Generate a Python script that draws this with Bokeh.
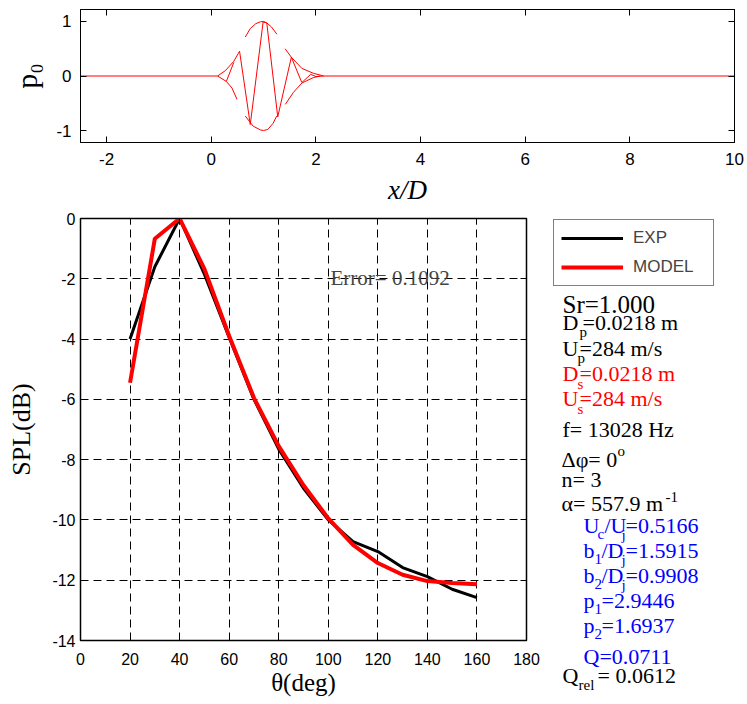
from bokeh.plotting import figure
from bokeh.models import (Label, Legend, LegendItem, LinearAxis, FixedTicker, Range1d,
                          CustomJSTickFormatter)
from bokeh.layouts import column, row
from bokeh.embed import file_html
from bokeh.resources import INLINE

# ---------------- data: top panel (wave packet p0 vs x/D) ----------------
zero_x = [[-2.5, 0.12], [2.15, 10.0]]
zero_y = [[0.0, 0.0], [0.0, 0.0]]
main_x = [0.12, 0.27, 0.43, 0.54, 0.745, 0.99, 1.06, 1.27, 1.53, 1.73, 1.90, 2.00, 2.15]
main_y = [0.0, 0.10, 0.27, 0.455, -0.89, 0.99, 0.975, -0.75, 0.345, -0.12, 0.03, -0.01, 0.0]
inner_left_x = [0.12, 0.287, 0.43]
inner_left_y = [0.0, -0.10, 0.25]
lower_left_x = [0.287, 0.395, 0.49]
lower_left_y = [-0.10, -0.22, -0.425]
top_arc_x = [0.65, 0.745, 0.85, 0.94, 1.0, 1.06, 1.15, 1.255]
top_arc_y = [0.715, 0.87, 0.96, 0.995, 1.0, 0.975, 0.90, 0.765]
bot_arc_x = [0.65, 0.80, 0.94, 1.0, 1.08, 1.18, 1.25]
bot_arc_y = [-0.735, -0.92, -0.99, -1.0, -0.98, -0.87, -0.735]
upper_right_x = [1.41, 1.53, 1.73, 1.95, 2.15]
upper_right_y = [0.50, 0.345, 0.14, 0.05, 0.0]
lower_right_x = [1.415, 1.57, 1.73, 1.95, 2.08]
lower_right_y = [-0.52, -0.30, -0.13, -0.03, 0.0]
top_xticks = [-2, 0, 2, 4, 6, 8, 10]
top_yticks = [-1, 0, 1]

# ---------------- data: bottom panel (SPL directivity) ----------------
theta = [20, 30, 40, 50, 60, 70, 80, 90, 100, 110, 120, 130, 140, 150, 160]
spl_exp = [-4.0, -1.6, 0.0, -1.85, -3.95, -6.0, -7.65, -8.95, -10.0, -10.72, -11.05, -11.58, -11.88, -12.3, -12.58]
spl_model = [-5.45, -0.67, 0.0, -1.67, -3.9, -5.95, -7.55, -8.85, -9.95, -10.83, -11.43, -11.82, -12.03, -12.09, -12.13]
bot_xticks = [0, 20, 40, 60, 80, 100, 120, 140, 160, 180]
bot_yticks = [-14, -12, -10, -8, -6, -4, -2, 0]

SERIF = "Liberation Serif"
SANS = "Liberation Sans"
BLUE = "#0000ff"
RED = "#ff0000"

# ---------------- top figure (page 0..747 x 0..208) ----------------
top = figure(frame_width=654, frame_height=133, output_backend="svg", toolbar_location=None,
             x_range=Range1d(-2.5, 10.0), y_range=Range1d(-1.22, 1.22),
             min_border_left=80, min_border_right=13, min_border_top=9, min_border_bottom=66)
segs_x = zero_x + [main_x, inner_left_x, lower_left_x, top_arc_x, bot_arc_x, upper_right_x, lower_right_x]
segs_y = zero_y + [main_y, inner_left_y, lower_left_y, top_arc_y, bot_arc_y, upper_right_y, lower_right_y]
top.multi_line(xs=segs_x, ys=segs_y, line_color=RED, line_width=1)

# ---------------- bottom figure (frame 80..526 x 218..640) ----------------
BX0, BX1, BY0, BY1 = 0, 180, -14, 0
bot = figure(frame_width=446, frame_height=422, output_backend="svg", toolbar_location=None,
             x_range=Range1d(BX0, BX1), y_range=Range1d(BY0, BY1),
             min_border_left=80, min_border_right=16, min_border_top=10, min_border_bottom=62)
r_exp = bot.line(theta, spl_exp, line_color="black", line_width=3)
r_mod = bot.line(theta, spl_model, line_color=RED, line_width=4)

def bx(px):  # page x -> bottom data x
    return BX0 + (px - 80) / 446 * (BX1 - BX0)

def by(py):  # page y -> bottom data y
    return BY1 - (py - 218) / 422 * (BY1 - BY0)

# ---------------- styling ----------------
blank = CustomJSTickFormatter(code="return ''")

def style(fig, xt, yt, tick_font, xstand, ystand, outline_w):
    fig.xaxis.ticker = FixedTicker(ticks=xt)
    fig.yaxis.ticker = FixedTicker(ticks=yt)
    fig.xaxis.major_label_overrides = {t: str(t) for t in xt}
    fig.yaxis.major_label_overrides = {t: str(t) for t in yt}
    fig.add_layout(LinearAxis(ticker=FixedTicker(ticks=xt), formatter=blank,
                              major_label_standoff=0), "above")
    fig.add_layout(LinearAxis(ticker=FixedTicker(ticks=yt), formatter=blank,
                              major_label_standoff=0), "right")
    for ax in fig.axis:
        ax.major_tick_in = 6
        ax.major_tick_out = 0
        ax.minor_tick_line_color = None
        ax.major_tick_line_color = "black"
        ax.axis_line_color = "black"
        ax.major_label_text_font = SANS
        ax.major_label_text_color = "black"
        ax.major_label_text_font_size = tick_font
        ax.axis_label_text_font = SERIF
        ax.axis_label_text_font_style = "normal"
        ax.axis_label_text_color = "black"
    for ax in fig.below:
        ax.major_label_standoff = xstand
    for ax in fig.left:
        ax.major_label_standoff = ystand
    fig.outline_line_color = "black"
    fig.outline_line_width = outline_w
    fig.background_fill_color = "white"
    fig.border_fill_color = "white"

style(top, top_xticks, top_yticks, "17px", 10, 9, 1)
top.grid.visible = False
top.below[0].axis_label = "x/D"
top.below[0].axis_label_text_font_style = "italic"
top.below[0].axis_label_text_font_size = "27px"
top.below[0].axis_label_standoff = 7
top.left[0].axis_label = "p₀"
top.left[0].axis_label_text_font_size = "30px"
top.left[0].axis_label_standoff = 10

style(bot, bot_xticks, bot_yticks, "16px", 12, 5, 1.5)
bot.grid.grid_line_color = "black"
bot.grid.grid_line_dash = "8 5"
bot.grid.grid_line_width = 1
bot.below[0].axis_label = "θ(deg)"
bot.below[0].axis_label_text_font_size = "25px"
bot.below[0].axis_label_standoff = 1
bot.left[0].axis_label = "SPL(dB)"
bot.left[0].axis_label_text_font_size = "26px"
bot.left[0].axis_label_standoff = 13

# rendered text sits ~0.33 em lower than the requested baseline; compensate
def lift(size_px):
    return 0.33 * size_px

bot.add_layout(Label(x=bx(330), y=by(284 - lift(21)), text="Error= 0.1092", text_align="left",
                     text_baseline="alphabetic", text_font=SERIF, text_font_size="21px"))

# ---------------- text panel (legend + parameters): frame page x 542..747, y 218..702 ----------------
TXT_X0, TXT_TOP, TXT_BOTTOM = 542, 218, 702
TW, TH = 205, TXT_BOTTOM - TXT_TOP
txt = figure(frame_width=TW, frame_height=TH, output_backend="svg", toolbar_location=None,
             x_range=Range1d(0, TW), y_range=Range1d(0, TH),
             min_border_left=0, min_border_right=0, min_border_top=10, min_border_bottom=0,
             x_axis_location=None, y_axis_location=None)
txt.outline_line_color = None
txt.grid.visible = False
txt.background_fill_color = "white"
txt.border_fill_color = "white"

nan = float("nan")
leg_exp = txt.line(x=[nan], y=[nan], line_color="black", line_width=3)
leg_mod = txt.line(x=[nan], y=[nan], line_color=RED, line_width=4)
legend = Legend(items=[LegendItem(label="EXP", renderers=[leg_exp]),
                       LegendItem(label="MODEL", renderers=[leg_mod])],
                location=(553 - TXT_X0, TXT_BOTTOM - 286), margin=0, padding=7, spacing=7,
                glyph_width=62, glyph_height=22, label_height=22, label_width=73,
                label_standoff=10, label_text_font=SANS, label_text_font_size="17px",
                border_line_color="black", border_line_width=1,
                background_fill_color="white", background_fill_alpha=1)
txt.add_layout(legend)

MAIN = 22
SUB = 15

def put(px, py, text, color="black", size=MAIN):
    txt.add_layout(Label(x=px - TXT_X0, y=TXT_BOTTOM - (py - lift(size)), text=text,
                         text_align="left", text_baseline="alphabetic", text_font=SERIF,
                         text_font_size=f"{size}px", text_color=color))

put(562, 312, "Sr=1.000", size=25)
put(562, 329, "D"); put(579, 336, "p", size=SUB); put(582, 329, "=0.0218 m")
put(562, 355, "U"); put(577, 362, "p", size=SUB); put(579, 355, "=284 m/s")
put(562, 380.5, "D", RED); put(577, 388, "s", RED, SUB); put(579, 380.5, "=0.0218 m", RED)
put(562, 405, "U", RED); put(577, 413, "s", RED, SUB); put(579, 405, "=284 m/s", RED)
put(562, 436.5, "f= 13028 Hz")
put(561, 466, "Δφ= 0"); put(617, 455, "o", size=SUB)
put(561, 486, "n= 3")
put(561, 510, "α= 557.9 m"); put(665, 501, "-1", size=SUB)
put(583, 532, "U", BLUE); put(597, 538, "c", BLUE, SUB); put(604, 532, "/U", BLUE)
put(621, 539, "j", BLUE, SUB); put(625, 532, "=0.5166", BLUE)
put(583, 557, "b", BLUE); put(594, 563, "1", BLUE, SUB); put(601, 557, "/D", BLUE)
put(621, 564, "j", BLUE, SUB); put(625, 557, "=1.5915", BLUE)
put(583, 582, "b", BLUE); put(594, 588, "2", BLUE, SUB); put(601, 582, "/D", BLUE)
put(621, 589, "j", BLUE, SUB); put(625, 582, "=0.9908", BLUE)
put(583, 607.5, "p", BLUE); put(594, 613, "1", BLUE, SUB); put(601, 607.5, "=2.9446", BLUE)
put(583, 632.5, "p", BLUE); put(594, 638, "2", BLUE, SUB); put(601, 632.5, "=1.6937", BLUE)
put(583, 663, "Q=0.0711", BLUE)
put(562, 682.5, "Q"); put(578, 689, "rel", size=SUB); put(597, 682.5, "= 0.0612")

layout = column(top, row(bot, txt))
open("out.html", "w").write(file_html(layout, INLINE))
